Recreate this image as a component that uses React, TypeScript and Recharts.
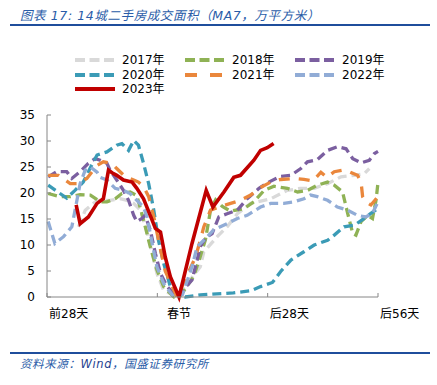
import React from "react";
import { LineChart, Line, XAxis, YAxis } from "recharts";

// day offset from Spring Festival, value in 万平方米 (MA7)
const y2017: [number, number][] = [
  [-25.5, 13.5], [-23.8, 16.7], [-20.8, 18.6], [-17.5, 18.6], [-14.9, 18.9], [-13.2, 18.6],
  [-11.5, 18], [-9.8, 16.7], [-8.1, 12.5], [-6.8, 8.4], [-5.6, 4.5], [-3.9, 1.3], [-0.7, 0],
  [2, 2.5], [5.4, 5.8], [6.3, 8.7], [9.7, 11.6], [12.2, 13.5], [14.8, 16], [18.2, 18],
  [23.3, 18.9], [27.5, 20.5], [30.9, 20.9], [34.3, 20.9], [37.7, 21.8], [41.1, 23.1],
  [44.5, 23.4], [47, 23.7], [48.3, 24.7],
];
const y2018: [number, number][] = [
  [-33.2, 19.9], [-30.2, 19.3], [-27.6, 19.3], [-25.1, 19.7], [-22.5, 19.6], [-20, 18.3],
  [-18.3, 18.3], [-16.2, 18.9], [-14.5, 19.9], [-12.4, 20.2], [-10.7, 19.5], [-9, 14.8],
  [-7.3, 9.7], [-5.6, 5.2], [-3.9, 2], [-1.3, 0], [0.4, 0.3], [3.7, 3.9], [5.4, 7.8],
  [6.7, 11], [8, 16.7], [9.3, 18.7], [11, 17.4], [13.1, 16.5], [16.5, 17], [19, 18.3],
  [21.6, 20.5], [24.1, 21.3], [27.5, 20.9], [30.1, 20.2], [32.6, 20.5], [35.1, 21.5],
  [37.7, 22.1], [39.4, 21.5], [41.5, 20.2], [42.8, 16.1], [44.1, 12.2], [44.9, 11.9],
  [46.2, 14.5], [47.9, 15.7], [49.1, 15.1], [50, 18.6], [50.5, 22],
];
const y2019: [number, number][] = [
  [-33.2, 23.1], [-31, 24.1], [-28.5, 24.1], [-27.2, 22.8], [-25.1, 24.1], [-23, 25.7],
  [-21.3, 26.6], [-20, 26.3], [-18.3, 25.7], [-17.5, 24.4], [-15.8, 22.5], [-14.1, 20.5],
  [-12.8, 18.6], [-11.5, 15.7], [-10.7, 14.5], [-9.4, 15.1], [-8.6, 15.7], [-7.3, 12.9],
  [-6, 8.4], [-4.7, 4.5], [-3, 2], [-0.5, 0], [3.3, 3.3], [4.6, 7.1], [5.4, 9.7],
  [6.7, 11.3], [8.4, 12.2], [10.1, 15.4], [12.2, 16], [14.8, 16.7], [17.3, 18.9],
  [20.3, 20.9], [22.8, 22.1], [25.8, 23.2], [28.4, 23.4], [30.9, 24.7], [32.6, 26],
  [35.1, 26.4], [37.7, 28.2], [40.2, 28.9], [42.4, 28.5], [44.1, 26.6], [46.2, 25.8],
  [48.3, 26.3], [49.6, 27.6], [50.5, 28],
];
const y2020: [number, number][] = [
  [-33.2, 21.5], [-28.5, 19], [-26.4, 20.5], [-24.3, 22.1], [-22.6, 24.7], [-20.8, 27.3],
  [-18.3, 27.9], [-15.8, 29.2], [-14.5, 29.5], [-12.8, 28.2], [-11.5, 30.1], [-10.3, 29.2],
  [-9, 25.7], [-7.7, 21.8], [-6.4, 16.7], [-5.2, 10.9], [-3.9, 6.5], [-2.2, 2], [0, 0.4],
  [1.6, 0], [5.4, 0.4], [13.8, 0.8], [18.2, 1.2], [20.7, 2], [23.7, 2.8], [25.8, 4.9],
  [28.4, 7.1], [31.7, 8.7], [34.3, 10], [37.7, 10.9], [39.4, 11.9], [41.9, 13.5],
  [44.5, 13.8], [47, 15.1], [48.7, 16.1], [50.5, 17],
];
const y2021: [number, number][] = [
  [-33.2, 23.4], [-30.6, 23.4], [-27.6, 21.8], [-25.5, 21.8], [-23.4, 22.8], [-20.8, 25.3],
  [-19.2, 26], [-17, 25.7], [-15.8, 24.7], [-13.6, 23.1], [-11.5, 22.5], [-10.3, 22.1],
  [-9, 21.2], [-7.7, 19.3], [-6.4, 15.4], [-5.2, 10.9], [-3.5, 5], [-0.5, 0], [4.2, 7.7],
  [5.4, 10.9], [6.3, 13.5], [8, 16.7], [10.1, 17.3], [13.1, 18], [15.6, 18.6], [18.2, 19.6],
  [20.3, 20.9], [23.3, 22.1], [25.8, 22.6], [29.2, 22.8], [31.7, 22.6], [34, 22.3],
  [36, 24], [37.5, 23], [39.4, 24.1], [41.5, 24.4], [43.2, 24.1], [45.3, 23.4], [46.2, 22.1],
  [46.6, 19.3], [47.4, 18.3], [48.7, 17.7], [50.5, 19.3],
];
const y2022: [number, number][] = [
  [-33.2, 14.5], [-31.5, 10.3], [-29.3, 11.6], [-27.2, 13.5], [-25.9, 18.6], [-25.1, 21.8],
  [-23.8, 24.4], [-22.5, 25], [-20.8, 24], [-20, 23], [-18.3, 22.5], [-16.2, 20.9],
  [-14.1, 20.5], [-12.4, 19.9], [-10.7, 18.6], [-9, 17.3], [-8.1, 15.4], [-6.8, 10.3],
  [-5.6, 5.8], [-3.9, 2.6], [-1.3, 0], [0.9, 0.5], [3.3, 5.8], [4.6, 9.7], [6.3, 10.9],
  [8.8, 12.9], [12.2, 14.1], [14.8, 15.1], [17.3, 15.7], [20.7, 17.3], [23.3, 18],
  [26.6, 18], [29.2, 18.3], [31.7, 18.9], [33.4, 19.6], [35.1, 19.3], [37.7, 18.6],
  [40.2, 17.3], [42.8, 16.7], [45.3, 15.7], [47.4, 15.4], [49.1, 16.1], [50.5, 18.3],
];
const y2023: [number, number][] = [
  [-26.1, 17.7], [-25.1, 14.1], [-23, 15.4], [-20.8, 18], [-19.2, 18.9], [-17.9, 24.4],
  [-17, 23.9], [-15.8, 23.4], [-14.1, 22.5], [-11.9, 22.1], [-10.7, 20.9], [-9, 18.9],
  [-7.3, 15.7], [-6, 13.2], [-4.7, 12.5], [-3.5, 7.7], [-2.2, 3.9], [0, 0], [3.3, 10.3],
  [6.9, 20.5], [8.6, 17.3], [11.4, 20.2], [13.9, 23], [15.6, 23.4], [19, 26.3],
  [20.7, 28.2], [22.4, 28.7], [24, 29.5],
];

const xTicks = [-33.5, -5.5, 22.5, 50.5];
const xLabels = ["前28天", "春节", "后28天", "后56天"];
const yTicks = [0, 5, 10, 15, 20, 25, 30, 35];

const series = [
  { name: "2017年", data: y2017, color: "#d9d9d9", dash: "9 5" },
  { name: "2018年", data: y2018, color: "#8fb255", dash: "9 5" },
  { name: "2019年", data: y2019, color: "#7b5fa0", dash: "9 5" },
  { name: "2020年", data: y2020, color: "#3b9bb6", dash: "9 5" },
  { name: "2021年", data: y2021, color: "#ea873c", dash: "11 9" },
  { name: "2022年", data: y2022, color: "#91acd6", dash: "9 5" },
  { name: "2023年", data: y2023, color: "#c00000", dash: undefined },
];

const FONT = '"DejaVu Sans", "Noto Sans CJK SC", sans-serif';
const BLUE = "#2a5ca8";

const PLOT_W = 331;
const DAY_PX = PLOT_W / 84;

function YTick(props: any) {
  const { x, y, payload } = props;
  return (
    <g>
      <line x1={x + 12} x2={x + 16} y1={y} y2={y} stroke="#868686" />
      <text x={x} y={y} dy="0.36em" textAnchor="end" fontSize={12} fill="#000" fontFamily={FONT}>
        {payload.value}
      </text>
    </g>
  );
}

function XTick(props: any) {
  const { x, y, payload, index } = props;
  const ay = y - 12;
  return (
    <g>
      <line x1={x} x2={x} y1={ay} y2={ay - 4} stroke="#868686" />
      <text x={x + 5.5 * DAY_PX} y={y} dy="0.71em" textAnchor="middle" fontSize={12} fill="#000" fontFamily={FONT}>
        {xLabels[index] ?? payload.value}
      </text>
    </g>
  );
}

function LegendBox() {
  const cols = [75, 185, 295];
  const rows = [60, 75, 89];
  return (
    <svg width={437} height={100} style={{ position: "absolute", left: 0, top: 0 }}>
      {series.map((s, i) => {
        const cx = cols[i % 3];
        const cy = rows[Math.floor(i / 3)];
        return (
          <g key={s.name}>
            <line
              x1={cx}
              x2={cx + 40}
              y1={cy}
              y2={cy}
              stroke={s.color}
              strokeWidth={4}
              strokeDasharray={s.dash ? (s.dash === "11 9" ? "12 13" : "10 4.5") : undefined}
            />
            <text x={cx + 47} y={cy} dy="0.36em" fontSize={12} fontFamily={FONT} fill="#000">
              {s.name}
            </text>
          </g>
        );
      })}
    </svg>
  );
}

export default function App() {
  return (
    <div style={{ position: "relative", width: 437, height: 385, background: "#fff", overflow: "hidden" }}>
      <style>{`body{margin:0}`}</style>
      <div
        style={{
          position: "absolute",
          left: 20,
          top: 5,
          fontFamily: FONT,
          fontStyle: "italic",
          fontSize: 12.5,
          letterSpacing: 0.6,
          color: BLUE,
          whiteSpace: "nowrap",
        }}
      >
        图表 17: 14城二手房成交面积（MA7，万平方米）
      </div>
      <div style={{ position: "absolute", left: 10, top: 24, width: 420, height: 2, background: "#1f4e9c" }} />
      <LegendBox />
      <div style={{ position: "absolute", left: 0, top: 0 }}>
        <LineChart width={437} height={385} margin={{ top: 115, right: 59, bottom: 58, left: 0 }}>
          <XAxis
            dataKey="d"
            type="number"
            domain={[-33.5, 50.5]}
            ticks={xTicks}
            allowDuplicatedCategory={false}
            stroke="#868686"
            tickSize={0}
            tickMargin={12}
            height={30}
            tick={<XTick />}
            interval={0}
          />
          <YAxis
            type="number"
            domain={[0, 35]}
            ticks={yTicks}
            width={47}
            stroke="#868686"
            tickSize={0}
            tickMargin={12}
            tick={<YTick />}
            interval={0}
          />
          {series.map((s) => (
            <Line
              key={s.name}
              data={s.data.map(([d, v]) => ({ d, v }))}
              dataKey="v"
              name={s.name}
              type="linear"
              stroke={s.color}
              strokeWidth={s.dash ? 3.3 : 3.6}
              strokeDasharray={s.dash}
              dot={false}
              isAnimationActive={false}
            />
          ))}
        </LineChart>
      </div>
      <div style={{ position: "absolute", left: 10, top: 352, width: 420, height: 2, background: "#1f4e9c" }} />
      <div
        style={{
          position: "absolute",
          left: 20,
          top: 355,
          fontFamily: FONT,
          fontStyle: "italic",
          fontSize: 11.5,
          letterSpacing: 0.6,
          color: BLUE,
          whiteSpace: "nowrap",
        }}
      >
        资料来源：<span style={{ color: "#1f3f8f" }}>Wind</span>，国盛证券研究所
      </div>
    </div>
  );
}
